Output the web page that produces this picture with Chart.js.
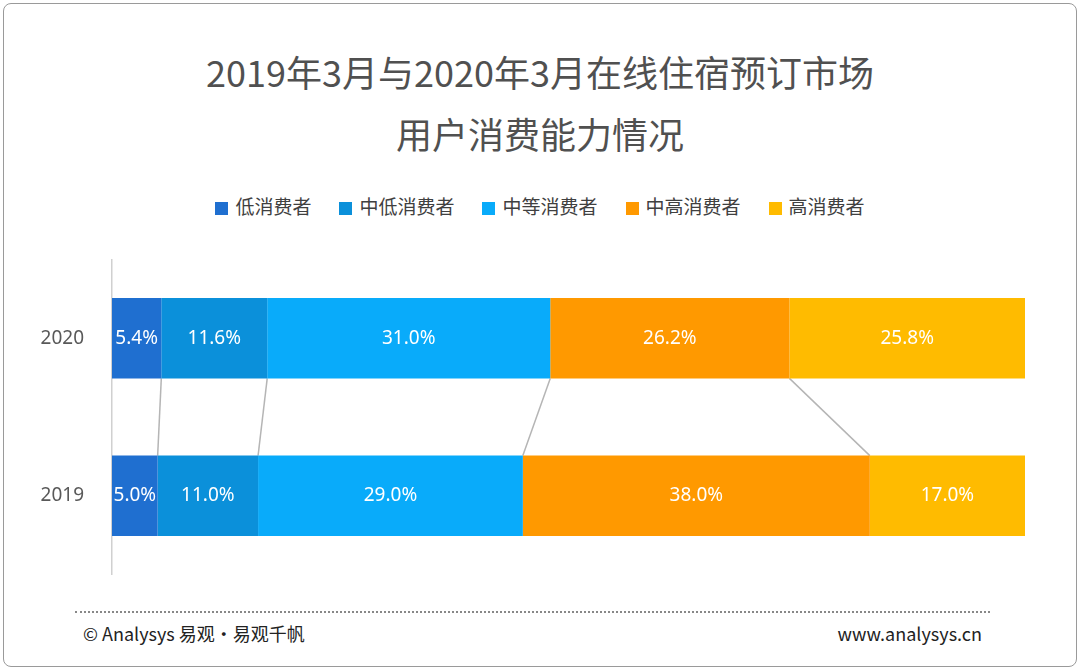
<!DOCTYPE html>
<html><head><meta charset="utf-8">
<script src="https://cdn.jsdelivr.net/npm/chart.js@4"></script>
<style>
body{margin:0;width:1080px;height:670px;background:#fff;font-family:"Noto Sans CJK SC","Noto Sans",sans-serif;position:relative;overflow:hidden}
#frame{position:absolute;left:3px;top:3px;width:1072px;height:662px;border:1px solid #9a9a9a;border-radius:8px}
.title{position:absolute;left:0;width:1080px;text-align:center;font-size:36px;color:#505050}
#legend{position:absolute;top:192px;left:0;width:1080px;text-align:center;font-size:19px;color:#404040}
#legend span{margin:0 14px}
#legend i{display:inline-block;width:13px;height:13px;margin-right:7px;vertical-align:-1px}
#wrap{position:absolute;left:0;top:228px;width:1080px;height:378px}
#dots{position:absolute;left:75px;top:611px;width:915px;border-top:2px dotted #888}
.foot{position:absolute;top:620px;font-size:18px;color:#222}
</style></head><body>
<div id="frame"></div>
<div class="title" style="top:45px">2019年3月与2020年3月在线住宿预订市场</div>
<div class="title" style="top:107px">用户消费能力情况</div>
<div id="legend"></div>
<div id="wrap"><canvas id="c"></canvas></div>
<div id="dots"></div>
<div class="foot" style="left:83px">© Analysys 易观·易观千帆</div>
<div class="foot" style="right:98px">www.analysys.cn</div>
<script>
let years = ["2020", "2019"]
let groups = ["低消费者", "中低消费者", "中等消费者", "中高消费者", "高消费者"]
let colors = ["#1f6fd0", "#0b90da", "#09abfa", "#ff9900", "#ffbb00"]
let low = [5.4, 5.0]
let midLow = [11.6, 11.0]
let mid = [31.0, 29.0]
let midHigh = [26.2, 38.0]
let high = [25.8, 17.0]
let series = [low, midLow, mid, midHigh, high]

let legend = document.getElementById("legend")
groups.forEach((g, i) => {
    legend.innerHTML += '<span><i style="background:' + colors[i] + '"></i>' + g + '</span>'
})

// grey lines joining the segment edges of the two bars
let linker = {
    id: "linker",
    beforeDatasetsDraw(chart) {
        let ctx = chart.ctx
        ctx.save()
        ctx.strokeStyle = "#b5b5b5"
        ctx.lineWidth = 1.5
        for (let d = 0; d < series.length - 1; d++) {
            let a = chart.getDatasetMeta(d).data[0]
            let b = chart.getDatasetMeta(d).data[1]
            ctx.beginPath()
            ctx.moveTo(a.x, a.y + a.height / 2)
            ctx.lineTo(b.x, b.y - b.height / 2)
            ctx.stroke()
        }
        ctx.restore()
    }
}

let labels = {
    id: "labels",
    afterDatasetsDraw(chart) {
        let ctx = chart.ctx
        ctx.save()
        ctx.fillStyle = "#fff"
        ctx.font = '19px "Noto Sans", sans-serif'
        ctx.textAlign = "center"
        ctx.textBaseline = "middle"
        chart.data.datasets.forEach((ds, d) => {
            chart.getDatasetMeta(d).data.forEach((el, i) => {
                ctx.fillText(ds.data[i].toFixed(1) + "%", (el.x + el.base) / 2, el.y)
            })
        })
        ctx.restore()
    }
}

new Chart(document.getElementById("c"), {
    type: "bar",
    data: {
        labels: years,
        datasets: groups.map((g, i) => ({
            label: g,
            data: series[i],
            backgroundColor: colors[i],
            barPercentage: 1,
            categoryPercentage: 0.51
        }))
    },
    options: {
        indexAxis: "y",
        responsive: true,
        maintainAspectRatio: false,
        animation: false,
        layout: { padding: { left: 0, right: 55, top: 0, bottom: 0 } },
        plugins: { legend: { display: false }, tooltip: { enabled: false } },
        scales: {
            x: { stacked: true, min: 0, max: 100, display: false },
            y: {
                stacked: true,
                grid: { display: false },
                border: { display: true, color: "#d0d0d0", width: 1.5 },
                ticks: { color: "#595959", padding: 20, font: { size: 19, family: '"Noto Sans", sans-serif' } },
                afterFit(s) { s.width = 112 }
            }
        }
    },
    plugins: [linker, labels]
})
</script>
</body></html>
